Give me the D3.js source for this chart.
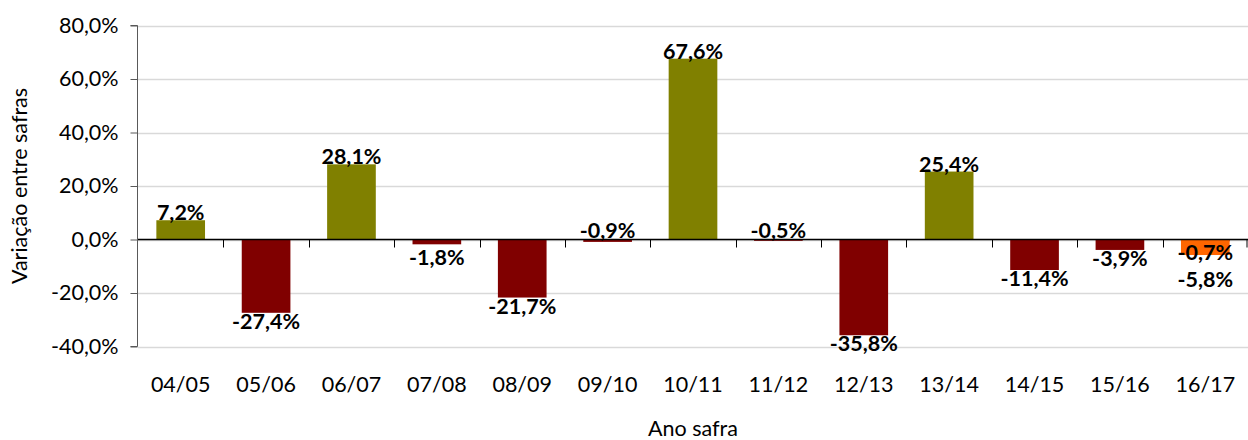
<!DOCTYPE html>
<html><head><meta charset="utf-8">
<script src="https://cdn.jsdelivr.net/npm/d3@7"></script>
<style>body{margin:0;background:#fff}svg{display:block}text{font-family:Lato,"Open Sans",sans-serif}</style>
</head><body><svg id="c" width="1248" height="440"></svg>
<script>
const categories = ["04/05","05/06","06/07","07/08","08/09","09/10","10/11","11/12","12/13","13/14","14/15","15/16","16/17"];
const variation = [7.2,-27.4,28.1,-1.8,-21.7,-0.9,67.6,-0.5,-35.8,25.4,-11.4,-3.9,-0.7];
const projection = [null,null,null,null,null,null,null,null,null,null,null,null,-5.8];
const yTicks = [-40,-20,0,20,40,60,80];
const yTitle = "Variação entre safras";
const xTitle = "Ano safra";

const svg = d3.select("#c");
const m = {l:138, r:0, t:25.5, b:93.5};
const W = 1248, H = 440;
const FS = 21.5;
const x = d3.scaleBand().domain(categories).range([m.l, W - m.r]).paddingInner(0.43).paddingOuter(0.215);
const xb = d3.scaleBand().domain(categories).range([m.l, W - m.r]);
const y = d3.scaleLinear().domain([-40,80]).range([H - m.b, m.t]);
const fmt = v => d3.format(".1f")(v).replace(".", ",").replace("\u2212", "-") + "%";

// gridlines
svg.append("g").selectAll("line").data(yTicks).join("line")
  .attr("x1", m.l).attr("x2", W - m.r)
  .attr("y1", d => Math.round(y(d)) + 0.5).attr("y2", d => Math.round(y(d)) + 0.5)
  .attr("stroke", "#d9d9d9").attr("stroke-width", 1.5);

// y axis
const ya = svg.append("g").attr("transform", `translate(${m.l - 0.5},0)`)
  .call(d3.axisLeft(y).tickValues(yTicks).tickFormat(fmt).tickSize(7).tickPadding(12));
ya.select(".domain").attr("stroke", "#595959").attr("d", `M-7,${y(80)}H0V${y(-40)}H-7`);
ya.selectAll(".tick line").attr("stroke", "#595959");
ya.selectAll("text").attr("font-size", FS).attr("fill", "#000").attr("font-family", "Lato");

// bars
const colorOf = v => v >= 0 ? "#808000" : "#800000";
svg.append("g").selectAll("rect").data(categories.map((c,i)=>({c, v:variation[i]}))).join("rect")
  .attr("x", d => x(d.c)).attr("width", x.bandwidth())
  .attr("y", d => y(Math.max(0, d.v))).attr("height", d => Math.abs(y(d.v) - y(0)))
  .attr("fill", d => colorOf(d.v));
const proj = categories.map((c,i)=>({c, v:projection[i]})).filter(d => d.v !== null);
svg.append("g").selectAll("rect").data(proj).join("rect")
  .attr("x", d => x(d.c)).attr("width", x.bandwidth())
  .attr("y", d => y(Math.max(0, d.v))).attr("height", d => Math.abs(y(d.v) - y(0)))
  .attr("fill", "#ff6600");

// x axis (zero line with category separators)
const xg = svg.append("g").attr("transform", `translate(0,${y(0)})`);
xg.append("line").attr("x1", m.l).attr("x2", W - m.r).attr("stroke", "#000").attr("stroke-width", 1.6);
xg.selectAll("line.t").data(categories.slice(1).concat(["__end"])).join("line").attr("class","t")
  .attr("x1", d => d === "__end" ? W - 1 : Math.round(xb(d)) + 0.5)
  .attr("x2", d => d === "__end" ? W - 1 : Math.round(xb(d)) + 0.5)
  .attr("y1", 0).attr("y2", 8).attr("stroke", "#000");

// category labels
svg.append("g").selectAll("text").data(categories).join("text")
  .attr("x", d => xb(d) + xb.bandwidth()/2).attr("y", 392)
  .attr("text-anchor", "middle").attr("font-size", FS).text(d => d);

// data labels
const lab = svg.append("g").attr("font-weight", 700).attr("font-size", FS).attr("text-anchor", "middle");
categories.forEach((c, i) => {
  const v = variation[i], p = projection[i];
  const cx = x(c) + x.bandwidth()/2;
  if (p !== null) {
    lab.append("text").attr("x", cx).attr("y", y(p) + 5).text(fmt(v));
    lab.append("text").attr("x", cx).attr("y", y(p) + 32).text(fmt(p));
    return;
  }
  let ty;
  if (v >= 0) ty = y(v);
  else if (v > -1) ty = y(0) - 2;
  else ty = Math.max(y(v) + 16, y(0) + 25);
  lab.append("text").attr("x", cx).attr("y", ty).text(fmt(v));
});

// titles
svg.append("text").attr("transform", `translate(27,${(y(80)+y(-40))/2}) rotate(-90)`)
  .attr("text-anchor", "middle").attr("font-size", FS).text(yTitle);
svg.append("text").attr("x", (m.l + W)/2).attr("y", 436).attr("text-anchor", "middle")
  .attr("font-size", FS).text(xTitle);
</script></body></html>
